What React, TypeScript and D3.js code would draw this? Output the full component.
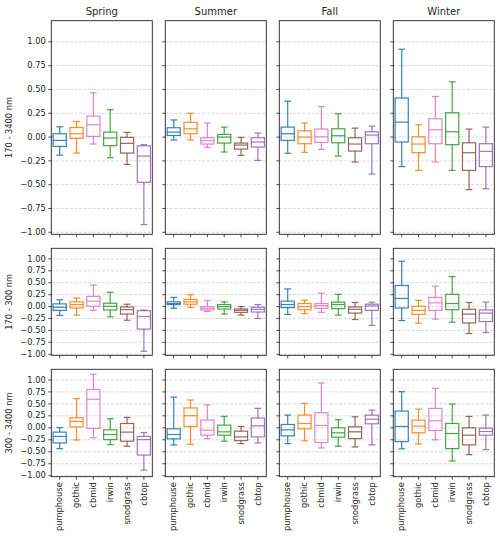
import React from "react";
import * as d3 from "d3";

const seasons = ["Spring", "Summer", "Fall", "Winter"];
const sites = ["pumphouse", "gothic", "cbmid", "irwin", "snodgrass", "cbtop"];
const bandLabels = ["170 - 3400 nm", "170 - 300 nm", "300 - 3400 nm"];
const yTicks = [-1.0, -0.75, -0.5, -0.25, 0.0, 0.25, 0.5, 0.75, 1.0];
const colors = ["#1f77b4", "#ff7f0e", "#e377c2", "#2ca02c", "#8c564b", "#9467bd"];

// each box: [whisker low, q1, median, q3, whisker high]
const fullSpring = [
  [-0.19, -0.098, -0.035, 0.035, 0.108],
  [-0.168, -0.014, 0.035, 0.1, 0.164],
  [-0.073, 0.007, 0.13, 0.22, 0.465],
  [-0.217, -0.09, -0.01, 0.052, 0.287],
  [-0.287, -0.168, -0.066, -0.003, 0.049],
  [-0.92, -0.475, -0.2, -0.092, -0.08],
];
const fullSummer = [
  [-0.03, 0.017, 0.052, 0.098, 0.18],
  [-0.03, 0.035, 0.087, 0.154, 0.25],
  [-0.108, -0.073, -0.038, -0.007, 0.147],
  [-0.157, -0.063, 0.0, 0.028, 0.105],
  [-0.192, -0.126, -0.084, -0.063, -0.003],
  [-0.245, -0.105, -0.052, -0.007, 0.042],
];
const fullFall = [
  [-0.17, -0.035, 0.035, 0.105, 0.378],
  [-0.16, -0.07, 0.0, 0.066, 0.147],
  [-0.13, -0.056, 0.003, 0.084, 0.32],
  [-0.2, -0.06, 0.014, 0.087, 0.245],
  [-0.262, -0.147, -0.073, -0.007, 0.094],
  [-0.388, -0.07, 0.021, 0.056, 0.115],
];
const fullWinter = [
  [-0.31, -0.052, 0.157, 0.41, 0.923],
  [-0.35, -0.164, -0.073, 0.003, 0.13],
  [-0.262, -0.07, 0.077, 0.192, 0.427],
  [-0.35, -0.08, 0.056, 0.255, 0.58],
  [-0.552, -0.35, -0.164, -0.06, 0.084],
  [-0.542, -0.31, -0.15, -0.07, 0.105],
];

const uvSpring = [
  [-0.186, -0.079, -0.014, 0.057, 0.143],
  [-0.179, -0.029, 0.043, 0.1, 0.179],
  [-0.079, 0.007, 0.114, 0.214, 0.45],
  [-0.214, -0.071, 0.007, 0.071, 0.3],
  [-0.286, -0.157, -0.064, -0.007, 0.05],
  [-0.936, -0.471, -0.207, -0.086, -0.071],
];
const uvSummer = [
  [-0.036, 0.043, 0.064, 0.1, 0.193],
  [-0.014, 0.05, 0.1, 0.15, 0.25],
  [-0.1, -0.071, -0.036, 0.0, 0.129],
  [-0.157, -0.05, 0.0, 0.043, 0.1],
  [-0.179, -0.121, -0.079, -0.05, 0.0],
  [-0.25, -0.114, -0.057, -0.014, 0.043],
];
const uvFall = [
  [-0.164, -0.021, 0.043, 0.114, 0.371],
  [-0.15, -0.064, 0.0, 0.064, 0.136],
  [-0.121, -0.036, 0.021, 0.064, 0.279],
  [-0.179, -0.043, 0.043, 0.093, 0.257],
  [-0.271, -0.136, -0.057, -0.007, 0.086],
  [-0.393, -0.079, 0.014, 0.05, 0.093],
];
const uvWinter = [
  [-0.293, -0.029, 0.171, 0.443, 0.95],
  [-0.35, -0.164, -0.079, 0.007, 0.129],
  [-0.264, -0.079, 0.079, 0.193, 0.429],
  [-0.329, -0.064, 0.064, 0.257, 0.629],
  [-0.564, -0.343, -0.157, -0.057, 0.086],
  [-0.543, -0.314, -0.136, -0.071, 0.093],
];

const visSpring = [
  [-0.435, -0.316, -0.18, -0.09, 0.007],
  [-0.253, 0.02, 0.133, 0.21, 0.61],
  [-0.21, -0.014, 0.596, 0.8, 1.12],
  [-0.35, -0.246, -0.14, -0.042, 0.19],
  [-0.386, -0.28, -0.09, 0.09, 0.218],
  [-0.884, -0.568, -0.246, -0.18, -0.098],
];
const visSummer = [
  [-0.358, -0.23, -0.14, -0.021, 0.64],
  [-0.344, 0.028, 0.253, 0.414, 0.58],
  [-0.225, -0.154, -0.049, 0.161, 0.477],
  [-0.28, -0.154, -0.084, 0.056, 0.239],
  [-0.33, -0.267, -0.19, -0.07, 0.028],
  [-0.316, -0.19, 0.042, 0.204, 0.407],
];
const visFall = [
  [-0.329, -0.168, -0.042, 0.07, 0.266],
  [-0.273, -0.021, 0.09, 0.266, 0.51],
  [-0.42, -0.308, 0.049, 0.315, 0.937],
  [-0.385, -0.196, -0.105, 0.0, 0.168],
  [-0.4, -0.224, -0.084, 0.021, 0.23],
  [-0.357, 0.084, 0.18, 0.266, 0.37],
];
const visWinter = [
  [-0.44, -0.287, 0.028, 0.35, 0.755],
  [-0.336, -0.105, 0.035, 0.16, 0.39],
  [-0.252, -0.056, 0.147, 0.405, 0.825],
  [-0.692, -0.434, -0.119, 0.09, 0.497],
  [-0.56, -0.357, -0.154, 0.0, 0.238],
  [-0.455, -0.154, -0.077, -0.007, 0.266],
];

const grid = [
  [fullSpring, fullSummer, fullFall, fullWinter],
  [uvSpring, uvSummer, uvFall, uvWinter],
  [visSpring, visSummer, visFall, visWinter],
];

const W = 500;
const H = 541;
const colLefts = [51.3, 165.3, 279.3, 393.3];
const colW = 101;
const rowTops = [20.7, 248.3, 369.3];
const rowBottoms = [234.3, 355.3, 476.7];
const yDomain: [number, number] = [-1.021, 1.222];
const FONT = "DejaVu Sans, sans-serif";
const TEXT = "#262626";

function Panel({ r, c }: { r: number; c: number }) {
  const data = grid[r][c];
  const x0 = colLefts[c];
  const y0 = rowTops[r];
  const y1 = rowBottoms[r];
  const x = d3.scaleBand<string>().domain(sites).range([x0, x0 + colW]).paddingInner(0).paddingOuter(0);
  const y = d3.scaleLinear().domain(yDomain).range([y1, y0]);
  const bw = x.bandwidth();
  const boxW = bw * 0.78;
  const capW = bw * 0.4;
  return (
    <g>
      {yTicks.map((t) => (
        <line key={"g" + t} x1={x0} x2={x0 + colW} y1={y(t)} y2={y(t)} stroke="#cfcfcf" strokeWidth={0.8} strokeDasharray="3,1.6" />
      ))}
      {data.map((s, i) => {
        const cx = (x(sites[i]) as number) + bw / 2;
        const col = colors[i];
        const [lo, q1, med, q3, hi] = s;
        return (
          <g key={i} stroke={col} strokeWidth={1.2} fill="none" strokeOpacity={0.9}>
            <line x1={cx} x2={cx} y1={y(q3)} y2={y(hi)} />
            <line x1={cx} x2={cx} y1={y(q1)} y2={y(lo)} />
            <line x1={cx - capW / 2} x2={cx + capW / 2} y1={y(hi)} y2={y(hi)} />
            <line x1={cx - capW / 2} x2={cx + capW / 2} y1={y(lo)} y2={y(lo)} />
            <rect x={cx - boxW / 2} width={boxW} y={y(q3)} height={Math.max(0.5, y(q1) - y(q3))} />
            <line x1={cx - boxW / 2} x2={cx + boxW / 2} y1={y(med)} y2={y(med)} />
          </g>
        );
      })}
      <rect x={x0} y={y0} width={colW} height={y1 - y0} fill="none" stroke="#222" strokeWidth={0.9} />
      {yTicks.map((t) => (
        <g key={"t" + t}>
          <line x1={x0 - 3} x2={x0} y1={y(t)} y2={y(t)} stroke="#222" strokeWidth={0.8} />
          {c === 0 && (
            <text x={x0 - 5.5} y={y(t)} dy="0.32em" textAnchor="end" fontSize={8.3} fontFamily={FONT} fill={TEXT}>
              {d3.format(".2f")(t).replace("-", "\u2212")}
            </text>
          )}
        </g>
      ))}
      {sites.map((s) => {
        const cx = (x(s) as number) + bw / 2;
        return (
          <g key={"x" + s}>
            <line x1={cx} x2={cx} y1={y1} y2={y1 + 3} stroke="#222" strokeWidth={0.8} />
            {r === 2 && (
              <text
                transform={`translate(${cx},${y1 + 5.5}) rotate(-90)`}
                textAnchor="end"
                dy="0.32em"
                fontSize={8.3}
                fontFamily={FONT}
                fill={TEXT}
              >
                {s}
              </text>
            )}
          </g>
        );
      })}
      {r === 0 && (
        <text x={x0 + colW / 2} y={y0 - 6} textAnchor="middle" fontSize={10} fontFamily={FONT} fill={TEXT}>
          {seasons[c]}
        </text>
      )}
      {c === 0 && (
        <text
          transform={`translate(9.5,${(y0 + y1) / 2}) rotate(-90)`}
          textAnchor="middle"
          dy="0.32em"
          fontSize={8.3}
          fontFamily={FONT}
          fill={TEXT}
        >
          {bandLabels[r]}
        </text>
      )}
    </g>
  );
}

export default function App() {
  return (
    <svg width={W} height={H} style={{ position: "absolute", left: 0, top: 0, background: "#fff" }}>
      <rect width={W} height={H} fill="#fff" />
      {[0, 1, 2].map((r) => [0, 1, 2, 3].map((c) => <Panel key={r + "-" + c} r={r} c={c} />))}
    </svg>
  );
}
